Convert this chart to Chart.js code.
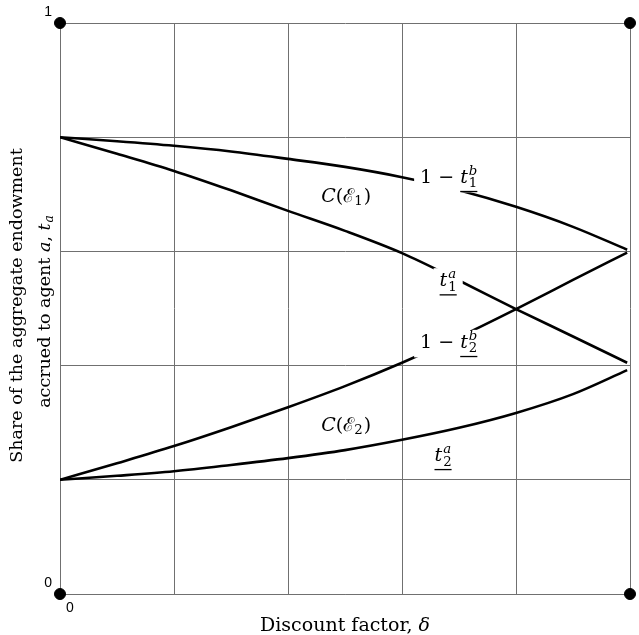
<!DOCTYPE html>
<html>
<head>
<meta charset="utf-8">
<script src="https://cdn.jsdelivr.net/npm/chart.js@4.4.1/dist/chart.umd.min.js"></script>
<style>
  html, body { margin: 0; padding: 0; background: #fff; }
  canvas { display: block; }
</style>
</head>
<body>
<canvas id="shareChart" width="639" height="635"></canvas>
<script>
// values, discount factor on x
const deltas      = [0, 0.1, 0.2, 0.3, 0.4, 0.5, 0.6, 0.7, 0.8, 0.9, 0.995];
const oneMinusT1b = [0.8, 0.793, 0.785, 0.775, 0.762, 0.748, 0.730, 0.707, 0.678, 0.643, 0.603];
const t1a         = [0.8, 0.771, 0.741, 0.707, 0.671, 0.636, 0.597, 0.549, 0.499, 0.451, 0.405];
const oneMinusT2b = [0.2, 0.229, 0.259, 0.292, 0.327, 0.364, 0.405, 0.450, 0.499, 0.550, 0.598];
const t2a         = [0.2, 0.207, 0.215, 0.226, 0.238, 0.252, 0.270, 0.291, 0.317, 0.350, 0.392];

// corner markers of the unit square
const cornerX = [0, 1, 0, 1];
const cornerY = [1, 1, 0, 0];

// only these ticks carry a label
const xTickShown = [0];
const yTickShown = [0, 1];

const SERIF = '"DejaVu Serif", serif';
const GRID = '#707070';

function pts(ys) {
    return deltas.map((d, i) => ({ x: d, y: ys[i] }));
}

function curve(ys) {
    return {
        data: pts(ys),
        borderColor: '#000',
        borderWidth: 2.6,
        pointRadius: 0,
        fill: false,
        cubicInterpolationMode: 'monotone'
    };
}

function fnt(size, italic) {
    return (italic ? 'italic ' : '') + size + 'px ' + SERIF;
}

// curve labels: anchor (center x, baseline y) in data units, then the pieces of the label
const curveLabels = [
    { x: 0.682, y: 0.720, box: true, parts: [{ t: '1 \u2212 ' }, { t: 't', it: true, sup: 'b', sub: '1', ul: true }] },
    { x: 0.502, y: 0.687, box: false, parts: [{ t: 'C', it: true }, { t: '(\u2130' }, { t: '', sub: '1' }, { t: ')' }] },
    { x: 0.681, y: 0.539, box: true, parts: [{ t: 't', it: true, sup: 'a', sub: '1', ul: true }] },
    { x: 0.682, y: 0.431, box: true, parts: [{ t: '1 \u2212 ' }, { t: 't', it: true, sup: 'b', sub: '2', ul: true }] },
    { x: 0.502, y: 0.285, box: false, parts: [{ t: 'C', it: true }, { t: '(\u2130' }, { t: '', sub: '2' }, { t: ')' }] },
    { x: 0.672, y: 0.233, box: true, parts: [{ t: 't', it: true, sup: 'a', sub: '2', ul: true }] }
];

function scriptItalic(s) { return /[a-z]/.test(s); }

function measurePart(ctx, p, size) {
    ctx.font = fnt(size, p.it);
    let w = ctx.measureText(p.t).width;
    let sw = 0;
    const small = size * 0.7;
    if (p.sup) { ctx.font = fnt(small, scriptItalic(p.sup)); sw = Math.max(sw, ctx.measureText(p.sup).width); }
    if (p.sub) { ctx.font = fnt(small, scriptItalic(p.sub)); sw = Math.max(sw, ctx.measureText(p.sub).width); }
    return { base: w, total: w + sw + (sw ? 1 : 0) };
}

function drawRich(ctx, parts, x, y, size) {
    const small = size * 0.7;
    let cx = x;
    parts.forEach(p => {
        const m = measurePart(ctx, p, size);
        ctx.font = fnt(size, p.it);
        ctx.fillText(p.t, cx, y);
        const sx = cx + m.base + (p.it ? 1 : 0);
        if (p.sup) {
            ctx.font = fnt(small, scriptItalic(p.sup));
            ctx.fillText(p.sup, sx, y - size * 0.42);
        }
        if (p.sub) {
            ctx.font = fnt(small, scriptItalic(p.sub));
            ctx.fillText(p.sub, sx, y + size * (p.sup ? 0.24 : 0.16));
        }
        if (p.ul) {
            ctx.fillRect(cx, y + size * 0.42, m.total, 1.3);
        }
        cx += m.total;
    });
    return cx - x;
}

const labelPlugin = {
    id: 'curveLabels',
    afterDatasetsDraw(chart) {
        const ctx = chart.ctx;
        const xs = chart.scales.x, ys = chart.scales.y;
        const size = 19;
        ctx.save();
        ctx.textBaseline = 'alphabetic';
        ctx.textAlign = 'left';
        curveLabels.forEach(l => {
            const w = l.parts.reduce((a, p) => a + measurePart(ctx, p, size).total, 0);
            const px = xs.getPixelForValue(l.x) - w / 2;
            const py = ys.getPixelForValue(l.y);
            if (l.box) {
                ctx.fillStyle = '#fff';
                ctx.fillRect(px - 6, py - size * 0.95, w + 12, size * 1.45);
            }
            ctx.fillStyle = '#000';
            drawRich(ctx, l.parts, px, py, size);
        });
        ctx.restore();
    },
    afterDraw(chart) {
        const ctx = chart.ctx;
        const a = chart.chartArea;
        ctx.save();
        ctx.fillStyle = '#000';
        ctx.textBaseline = 'alphabetic';

        // x axis title
        ctx.font = fnt(19, false);
        ctx.textAlign = 'center';
        const t1 = 'Discount factor, ';
        ctx.font = fnt(19, false);
        const w1 = ctx.measureText(t1).width;
        ctx.font = fnt(19, true);
        const w2 = ctx.measureText('\u03b4').width;
        ctx.textAlign = 'left';
        const xStart = (a.left + a.right) / 2 - (w1 + w2) / 2;
        ctx.font = fnt(19, false);
        ctx.fillText(t1, xStart, 631);
        ctx.font = fnt(19, true);
        ctx.fillText('\u03b4', xStart + w1, 631);

        // y axis title, two lines turned on their side
        const cy = (a.top + a.bottom) / 2;
        ctx.translate(0, 0);
        ctx.save();
        ctx.translate(22, cy - 3);
        ctx.rotate(-Math.PI / 2);
        ctx.font = fnt(17.5, false);
        ctx.textAlign = 'center';
        ctx.fillText('Share of the aggregate endowment', 0, 0);
        ctx.restore();

        const line2 = [{ t: 'accrued to agent ' }, { t: 'a', it: true }, { t: ', ' }, { t: 't', it: true, sub: 'a' }];
        const w = line2.reduce((s, p) => s + measurePart(ctx, p, 17.5).total, 0);
        ctx.save();
        ctx.translate(50, cy + 3);
        ctx.rotate(-Math.PI / 2);
        ctx.textAlign = 'left';
        drawRich(ctx, line2, -w / 2, 0, 17.5);
        ctx.restore();

        ctx.restore();
    }
};

const ctx = document.getElementById('shareChart').getContext('2d');
const shareChart = new Chart(ctx, {
    type: 'line',
    data: {
        datasets: [
            curve(oneMinusT1b),
            curve(t1a),
            curve(oneMinusT2b),
            curve(t2a),
            {
                data: cornerX.map((x, i) => ({ x: x, y: cornerY[i] })),
                showLine: false,
                pointRadius: 5.5,
                pointBackgroundColor: '#000',
                pointBorderColor: '#000',
                clip: false
            }
        ]
    },
    options: {
        responsive: false,
        animation: false,
        layout: { padding: { top: 23, right: 9, left: 0, bottom: 0 } },
        plugins: {
            legend: { display: false },
            tooltip: { enabled: false }
        },
        scales: {
            x: {
                type: 'linear',
                min: 0,
                max: 1,
                afterFit: function (s) { s.height = 41; },
                grid: { color: GRID, lineWidth: 1, drawTicks: false },
                border: { color: GRID, width: 1 },
                ticks: {
                    stepSize: 0.2,
                    autoSkip: false,
                    maxRotation: 0,
                    labelOffset: 10,
                    padding: 6,
                    color: '#000',
                    font: { family: '"Liberation Sans", Arial, sans-serif', size: 14 },
                    callback: function (v) { return xTickShown.includes(v) ? String(v) : ''; }
                }
            },
            y: {
                type: 'linear',
                min: 0,
                max: 1,
                afterFit: function (s) { s.width = 60; },
                grid: { color: GRID, lineWidth: 1, drawTicks: false },
                border: { color: GRID, width: 1 },
                ticks: {
                    stepSize: 0.2,
                    autoSkip: false,
                    labelOffset: -11,
                    padding: 8,
                    color: '#000',
                    font: { family: '"Liberation Sans", Arial, sans-serif', size: 14 },
                    callback: function (v) { return yTickShown.includes(v) ? String(v) : ''; }
                }
            }
        }
    },
    plugins: [labelPlugin]
});
</script>
</body>
</html>
